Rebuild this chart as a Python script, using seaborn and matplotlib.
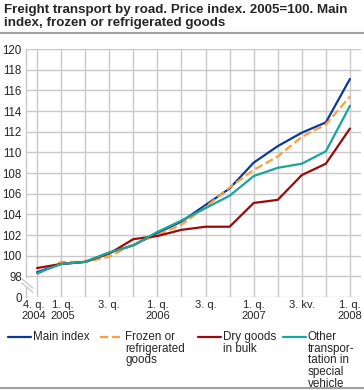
import pandas as pd
import numpy as np
import matplotlib.pyplot as plt
import matplotlib.transforms as mtrans
import seaborn as sns

quarters = ["2004Q4", "2005Q1", "2005Q2", "2005Q3", "2005Q4", "2006Q1", "2006Q2",
            "2006Q3", "2006Q4", "2007Q1", "2007Q2", "2007Q3", "2007Q4", "2008Q1"]
main_index = [98.4, 99.2, 99.4, 100.3, 101.0, 102.2, 103.3, 104.9, 106.5, 109.0, 110.6, 111.9, 112.9, 117.1]
frozen = [98.2, 99.4, 99.4, 99.9, 101.1, 102.0, 103.0, 104.7, 106.6, 108.3, 109.6, 111.5, 112.7, 115.4]
dry_bulk = [98.8, 99.2, 99.4, 100.2, 101.6, 101.9, 102.5, 102.8, 102.8, 105.1, 105.4, 107.8, 108.9, 112.3]
other_special = [98.3, 99.2, 99.4, 100.3, 101.0, 102.3, 103.4, 104.6, 105.8, 107.7, 108.5, 108.9, 110.1, 114.5]

series_names = ["Main index", "Frozen or\nrefrigerated\ngoods", "Dry goods\nin bulk",
                "Other\ntranspor-\ntation in\nspecial\nvehicle"]
colors = ["#0b3a9e", "#ff9e3d", "#9b0a0a", "#17a59c"]
styles = ["-", "--", "-", "-"]

xtick_pos = [0, 1, 3, 5, 7, 9, 11, 13]
xtick_labels = ["4. q.\n2004", "1. q.\n2005", "3. q.", "1. q.\n2006", "3. q.",
                "1. q.\n2007", "3. kv.", "1. q.\n2008"]
ytick_vals = [96, 98, 100, 102, 104, 106, 108, 110, 112, 114, 116, 118, 120]
ytick_labels = ["0"] + [str(v) for v in ytick_vals[1:]]

sns.set_style("white")
plt.rcParams['font.family'] = ['Liberation Sans', 'DejaVu Sans']

df = pd.DataFrame({"t": range(len(quarters))})
values = [main_index, frozen, dry_bulk, other_special]
grid_col = "#c8c8c8"

fig = plt.figure(figsize=(3.64, 3.90), dpi=100)
ax = fig.add_axes([26 / 364, 1 - 297 / 390, 335 / 364, 248 / 390])

for name, vals, c, ls in zip(series_names, values, colors, styles):
    sns.lineplot(x=df["t"], y=vals, ax=ax, color=c, linestyle=ls, linewidth=1.6, legend=False, zorder=3)

ax.set_xlim(-0.46, 13.46)
ax.set_ylim(96, 120)
ax.set_xticks(xtick_pos)
ax.set_xticklabels(xtick_labels, fontsize=8, linespacing=1.2)
ax.set_yticks(ytick_vals)
ax.set_yticklabels(ytick_labels, fontsize=8.3)
ax.tick_params(axis="both", which="both", length=0)
ax.tick_params(axis="y", pad=3)
ax.tick_params(axis="x", pad=2)
ax.set_xlabel("")
ax.set_ylabel("")
for s in ax.spines.values():
    s.set_visible(False)
ax.spines["left"].set_visible(True)
ax.spines["left"].set_color(grid_col)
ax.spines["left"].set_linewidth(1.0)

# first two labels pushed apart a little, as in the original
xl = ax.get_xticklabels()
xl[0].set_transform(xl[0].get_transform() + mtrans.ScaledTranslation(-3 / 100, 0, fig.dpi_scale_trans))
xl[1].set_transform(xl[1].get_transform() + mtrans.ScaledTranslation(2 / 100, 0, fig.dpi_scale_trans))

# grid under the series
for t in range(len(quarters)):
    ax.axvline(t, color=grid_col, linewidth=1.0, zorder=1)
for v in ytick_vals:
    ax.axhline(v, color=grid_col, linewidth=1.0, zorder=1)

# axis break marks
ax.plot([-0.63, -0.17], [97.75, 96.85], color="white", linewidth=5, clip_on=False, zorder=4,
        solid_capstyle="butt")
for dy in (0, -0.4):
    ax.plot([-0.63, -0.17], [97.75 + dy, 96.85 + dy], color="#c8c8c8", linewidth=0.9,
            clip_on=False, zorder=5)

# legend, entries top aligned like the original
leg_x = [8, 100, 198, 283]
for name, c, ls, lx in zip(series_names, colors, styles, leg_x):
    y0 = 1 - 337 / 390
    fig.add_artist(plt.Line2D([lx / 364, (lx + 23) / 364], [y0, y0], color=c, linestyle=ls,
                              linewidth=1.6))
    fig.text((lx + 25) / 364, 1 - 331 / 390, name, fontsize=8.4, va="top", ha="left",
             linespacing=0.96)

fig.text(0.012, 1 - 4 / 390,
         "Freight transport by road. Price index. 2005=100. Main\nindex, frozen or refrigerated goods",
         fontsize=9.6, fontweight="bold", va="top", ha="left", linespacing=1.15)
fig.add_artist(plt.Line2D([0, 1], [1 - 33 / 390, 1 - 33 / 390], color="#a0a0a0", linewidth=1.5))
fig.add_artist(plt.Line2D([0, 1], [1 - 388 / 390, 1 - 388 / 390], color="#a0a0a0", linewidth=1.5))

fig.savefig("out.png", dpi=100)
